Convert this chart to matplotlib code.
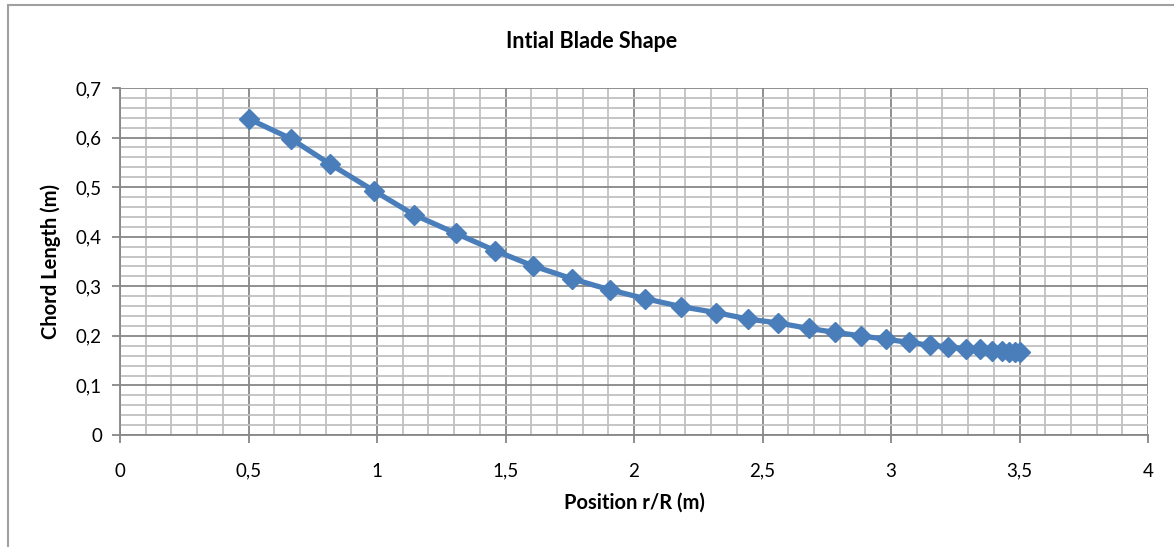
import numpy as np
import matplotlib.pyplot as plt
from matplotlib.ticker import MultipleLocator, FuncFormatter
from matplotlib.patches import Rectangle

plt.rcParams['font.family'] = ['Lato', 'DejaVu Sans']

# blade sections: radial position and chord
r_pos = [0.500, 0.664, 0.819, 0.987, 1.145, 1.306, 1.459, 1.608, 1.760, 1.905,
         2.044, 2.183, 2.319, 2.443, 2.561, 2.680, 2.783, 2.884, 2.981, 3.069,
         3.151, 3.222, 3.290, 3.345, 3.392, 3.433, 3.460, 3.481, 3.501]
chord = [0.638, 0.598, 0.546, 0.493, 0.444, 0.407, 0.372, 0.341, 0.315, 0.293,
         0.275, 0.259, 0.247, 0.234, 0.226, 0.215, 0.207, 0.200, 0.193, 0.187,
         0.181, 0.178, 0.174, 0.173, 0.170, 0.169, 0.168, 0.168, 0.168]

fig = plt.figure(figsize=(11.74, 5.47), dpi=100)
ax = fig.add_axes([120/1174, 1-435/547, (1148-120)/1174, (435-88)/547])

ax.plot(r_pos, chord, color='#4a7ebb', lw=3.8, marker='D', ms=10.5,
        markeredgecolor='#4a7ebb', zorder=3)

ax.set_xlim(0, 4)
ax.set_ylim(0, 0.7)
ax.xaxis.set_major_locator(MultipleLocator(0.5))
ax.xaxis.set_minor_locator(MultipleLocator(0.1))
ax.yaxis.set_major_locator(MultipleLocator(0.1))
ax.yaxis.set_minor_locator(MultipleLocator(0.02))

comma = FuncFormatter(lambda v, p: ('%g' % round(v, 2)).replace('.', ','))
ax.xaxis.set_major_formatter(comma)
ax.yaxis.set_major_formatter(comma)

ax.grid(which='minor', color='#c0c0c0', lw=1.3, zorder=0)
ax.grid(which='major', color='#878787', lw=1.3, zorder=1)
ax.set_axisbelow(True)

for side in ['top', 'right']:
    ax.spines[side].set_visible(False)
for side in ['left', 'bottom']:
    ax.spines[side].set_color('#878787')
    ax.spines[side].set_linewidth(1.3)

ax.tick_params(which='major', direction='out', length=6, width=1.3,
               color='#878787', labelsize=13.5, pad=7)
ax.tick_params(which='minor', length=0)
ax.tick_params(axis='x', pad=14)

ax.set_xlabel('Position r/R (m)', fontsize=14.5, fontweight='bold', labelpad=9)
ax.set_ylabel('Chord Length (m)', fontsize=14.5, fontweight='bold', labelpad=11)

fig.text(592/1174, 1-41/547, 'Intial Blade Shape', ha='center', va='center',
         fontsize=15.5, fontweight='bold')

# chart frame
fig.patches.append(Rectangle((8/1174, -0.1), 1.2, 1-5/547+0.1,
                             transform=fig.transFigure, fill=False,
                             edgecolor='#a0a0a0', lw=1.5))

fig.savefig('out.png', dpi=100)
